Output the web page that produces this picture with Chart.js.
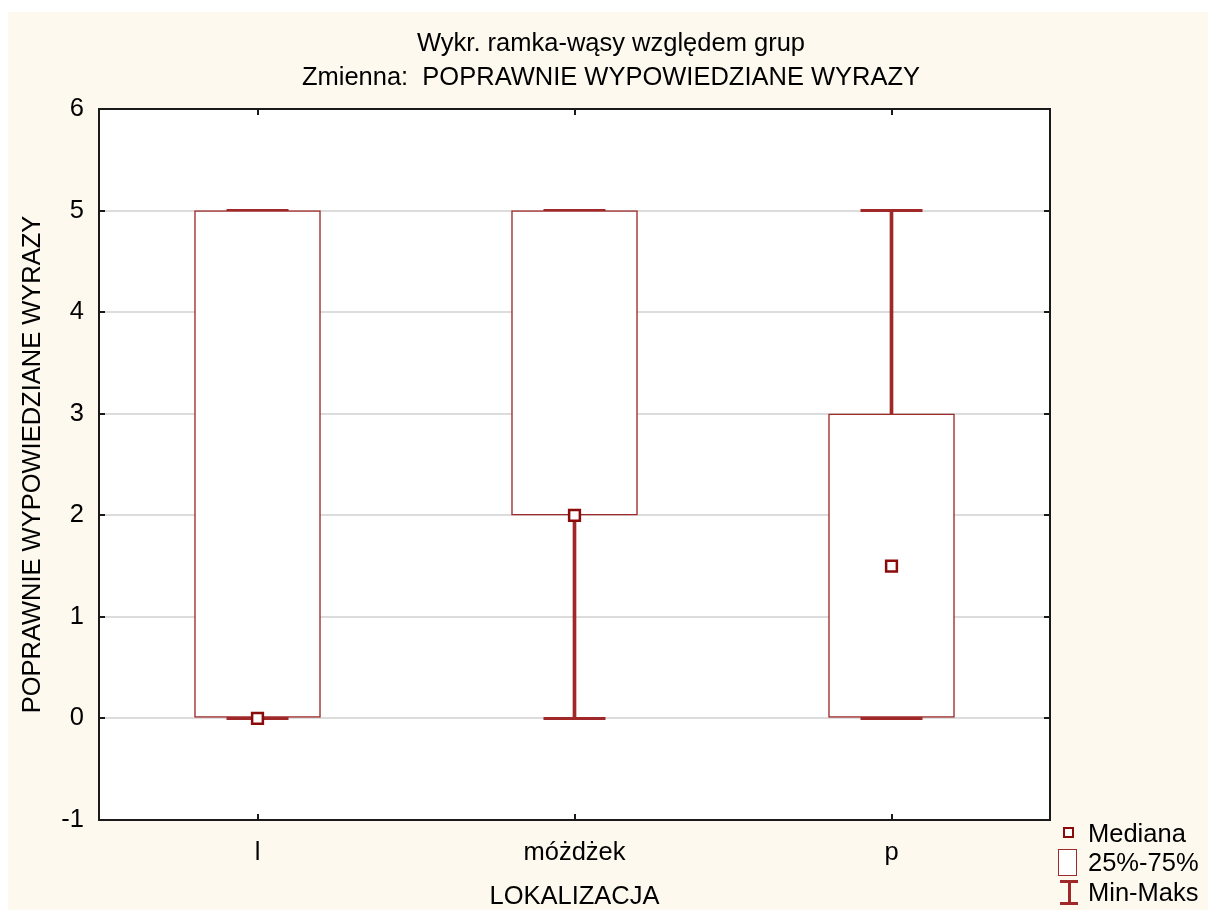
<!DOCTYPE html>
<html><head><meta charset="utf-8">
<script src="https://cdn.jsdelivr.net/npm/chart.js@4.4.1/dist/chart.umd.min.js"></script>
<style>
html,body{margin:0;padding:0;background:#fff;}
#wrap{position:relative;width:1208px;height:912px;overflow:hidden;}
canvas{position:absolute;left:0;top:0;}
.legtxt{position:absolute;left:1088px;font-family:"Liberation Sans",Arial,sans-serif;font-size:25.5px;color:#000;line-height:28px;white-space:nowrap;}
.sym{position:absolute;box-sizing:border-box;}
</style></head>
<body>
<div id="wrap">
<canvas id="c" width="1208" height="912"></canvas>
<div class="sym" style="left:1063px;top:827px;width:11px;height:11px;border:2.5px solid #8b0a0a;background:#fff;"></div>
<div class="legtxt" id="l0" style="top:819px;"></div>
<div class="sym" style="left:1058px;top:849px;width:19px;height:27px;border:1.5px solid #9e2a2a;background:#fff;"></div>
<div class="legtxt" id="l1" style="top:848px;"></div>
<div class="sym" style="left:1060px;top:880px;width:18px;height:3px;background:#a02828;"></div>
<div class="sym" style="left:1067.5px;top:880px;width:3px;height:25px;background:#a02828;"></div>
<div class="sym" style="left:1060px;top:902px;width:18px;height:3px;background:#a02828;"></div>
<div class="legtxt" id="l2" style="top:878px;"></div>
</div>
<script>
const categories = ['l', 'móżdżek', 'p'];
const minValues = [0, 0, 0];
const q1Values = [0, 2, 0];
const medianValues = [0, 2, 1.5];
const q3Values = [5, 5, 3];
const maxValues = [5, 5, 5];
const yTickValues = [-1, 0, 1, 2, 3, 4, 5, 6];
const legendLabels = ['Mediana', '25%-75%', 'Min-Maks'];
const titleLines = ['Wykr. ramka-wąsy względem grup', 'Zmienna:  POPRAWNIE WYPOWIEDZIANE WYRAZY'];
const xTitle = 'LOKALIZACJA';
const yTitle = 'POPRAWNIE WYPOWIEDZIANE WYRAZY';

document.getElementById('l0').textContent = legendLabels[0];
document.getElementById('l1').textContent = legendLabels[1];
document.getElementById('l2').textContent = legendLabels[2];

const FONT = '"Liberation Sans", Arial, sans-serif';
const FS = 25.5;
const BOXC = '#9e2a2a';
const WHC = '#a02828';
const MEDC = '#8b0a0a';

const bgPlugin = {
  id: 'bg',
  beforeDraw(chart) {
    const ctx = chart.ctx, a = chart.chartArea;
    ctx.save();
    ctx.fillStyle = '#ffffff';
    ctx.fillRect(0, 0, chart.width, chart.height);
    ctx.fillStyle = '#fef9ef';
    ctx.fillRect(8, 12, chart.width - 8, 898);
    ctx.fillStyle = '#ffffff';
    ctx.fillRect(a.left, a.top, a.right - a.left, a.bottom - a.top);
    ctx.restore();
  },
  afterDraw(chart) {
    const ctx = chart.ctx, a = chart.chartArea;
    const xs = chart.scales.x, ys = chart.scales.y;
    ctx.save();
    ctx.strokeStyle = '#1a1a1a';
    ctx.lineWidth = 2;
    ctx.strokeRect(a.left, a.top, a.right - a.left, a.bottom - a.top);
    ctx.beginPath();
    yTickValues.forEach(v => {
      const y = Math.round(ys.getPixelForValue(v));
      ctx.moveTo(a.left, y); ctx.lineTo(a.left + 6, y);
      ctx.moveTo(a.right, y); ctx.lineTo(a.right - 6, y);
    });
    categories.forEach((c, i) => {
      const x = Math.round(xs.getPixelForValue(i));
      ctx.moveTo(x, a.bottom); ctx.lineTo(x, a.bottom - 6);
      ctx.moveTo(x, a.top); ctx.lineTo(x, a.top + 6);
    });
    ctx.stroke();
    ctx.restore();
  }
};

new Chart(document.getElementById('c'), {
  type: 'bar',
  data: {
    labels: categories,
    datasets: [
      {
        type: 'bar', label: 'whisker', order: 5, grouped: false,
        data: categories.map((c, i) => [minValues[i], maxValues[i]]),
        backgroundColor: WHC, borderWidth: 0, barThickness: 3
      },
      {
        type: 'line', label: 'min', order: 4, data: minValues, showLine: false,
        pointStyle: 'line', pointRadius: 31, pointBorderWidth: 3, pointBorderColor: WHC,
        pointHoverRadius: 31
      },
      {
        type: 'line', label: 'max', order: 4, data: maxValues, showLine: false,
        pointStyle: 'line', pointRadius: 31, pointBorderWidth: 3, pointBorderColor: WHC,
        pointHoverRadius: 31
      },
      {
        type: 'bar', label: legendLabels[1], order: 3, grouped: false,
        data: categories.map((c, i) => [q1Values[i], q3Values[i]]),
        backgroundColor: '#ffffff', borderColor: BOXC, borderWidth: 1.5,
        borderSkipped: false, barThickness: 126
      },
      {
        type: 'line', label: legendLabels[0], order: 1, data: medianValues, showLine: false,
        pointStyle: 'rect', pointRadius: 7.6, pointBorderWidth: 2.5, pointBorderColor: MEDC,
        pointBackgroundColor: '#ffffff', pointHoverRadius: 7.6
      }
    ]
  },
  options: {
    responsive: false,
    animation: false,
    events: [],
    layout: { padding: { left: 14, top: 0, right: 0, bottom: 0 } },
    plugins: {
      legend: { display: false },
      tooltip: { enabled: false },
      title: {
        display: true, text: titleLines, color: '#000',
        font: { family: FONT, size: FS, weight: 'normal', lineHeight: 34 / FS },
        padding: { top: 27, bottom: 14 }
      }
    },
    scales: {
      x: {
        type: 'category', offset: true,
        grid: { display: false, drawTicks: false },
        border: { display: false },
        ticks: { color: '#000', font: { family: FONT, size: FS }, padding: 18, maxRotation: 0 },
        title: { display: true, text: xTitle, color: '#000', font: { family: FONT, size: FS }, padding: { top: 0, bottom: 0 } },
        afterFit(s) { s.height = 92; }
      },
      y: {
        min: -1, max: 6,
        afterBuildTicks(s) { s.ticks = yTickValues.map(v => ({ value: v })); },
        grid: {
          drawTicks: false, lineWidth: 2,
          color: ctx => (ctx.tick && (ctx.tick.value === -1 || ctx.tick.value === 6)) ? 'rgba(0,0,0,0)' : '#dcdcdc'
        },
        border: { display: false },
        ticks: { color: '#000', font: { family: FONT, size: FS }, padding: 15 },
        title: { display: true, text: yTitle, color: '#000', font: { family: FONT, size: FS }, padding: { top: 4, bottom: 0 } },
        afterFit(s) { s.width = 85; }
      },
      y2: {
        position: 'right', display: true,
        grid: { display: false, drawTicks: false },
        border: { display: false },
        ticks: { display: false },
        afterFit(s) { s.width = 158; }
      }
    }
  },
  plugins: [bgPlugin]
});
</script>
</body></html>
